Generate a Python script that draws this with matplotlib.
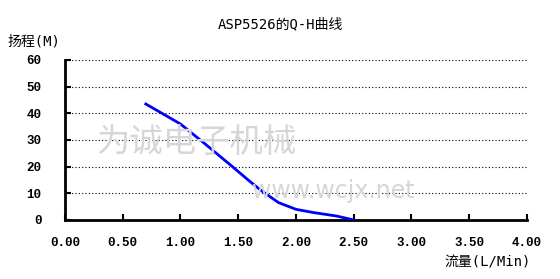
import matplotlib
matplotlib.use("Agg")
import matplotlib.pyplot as plt

plt.rcParams['font.family'] = ['DejaVu Sans Mono', 'Noto Sans CJK SC']

# Q-H 曲线数据
flow = [0.70, 1.00, 1.20, 1.45, 1.60, 1.70, 1.85, 2.00, 2.15, 2.35, 2.50]
head = [43.5, 36.0, 29.0, 20.0, 14.5, 11.0, 6.5, 4.0, 2.8, 1.5, 0.0]

x_ticks = [0, 0.5, 1.0, 1.5, 2.0, 2.5, 3.0, 3.5, 4.0]
y_ticks = [0, 10, 20, 30, 40, 50, 60]

fig = plt.figure(figsize=(5.6, 2.79), dpi=100)
ax = fig.add_axes([0.116, 0.2115, 0.825, 0.5735])

# 水印
fig.text(0.35, 0.49, "为诚电子机械", fontsize=24, color="#d6d6d6",
         ha="center", va="center", family="Noto Sans CJK SC", zorder=0)
fig.text(0.595, 0.315, "www.wcjx.net", fontsize=17, color="#d6d6d6",
         ha="center", va="center", family="DejaVu Sans", zorder=0)

ax.plot(flow, head, color="#0000ff", linewidth=2, zorder=3)

ax.set_xlim(0, 4)
ax.set_ylim(0, 60)
ax.set_xticks(x_ticks)
ax.set_yticks(y_ticks)
ax.set_xticklabels([f"{v:.2f}" for v in x_ticks], family="Liberation Mono",
                   fontsize=9, fontweight="bold")
ax.set_yticklabels([str(v) for v in y_ticks], family="Liberation Mono",
                   fontsize=9, fontweight="bold")
ax.tick_params(axis="x", direction="in", length=4, width=1.5, pad=12)
ax.tick_params(axis="y", direction="in", length=4, width=1.5, pad=17)

for v in y_ticks[1:]:
    ax.axhline(v, color="black", linestyle=(0, (1, 2)), linewidth=0.8, zorder=1)

ax.spines["top"].set_visible(False)
ax.spines["right"].set_visible(False)
ax.spines["left"].set_linewidth(2)
ax.spines["bottom"].set_linewidth(2)
ax.patch.set_alpha(0)

fig.text(0.5, 0.914, "ASP5526的Q-H曲线", fontsize=10, ha="center", va="center")
fig.text(0.014, 0.85, "扬程(M)", fontsize=10, ha="left", va="center")
fig.text(0.947, 0.06, "流量(L/Min)", fontsize=10, ha="right", va="center")

fig.savefig("out.png", dpi=100)
